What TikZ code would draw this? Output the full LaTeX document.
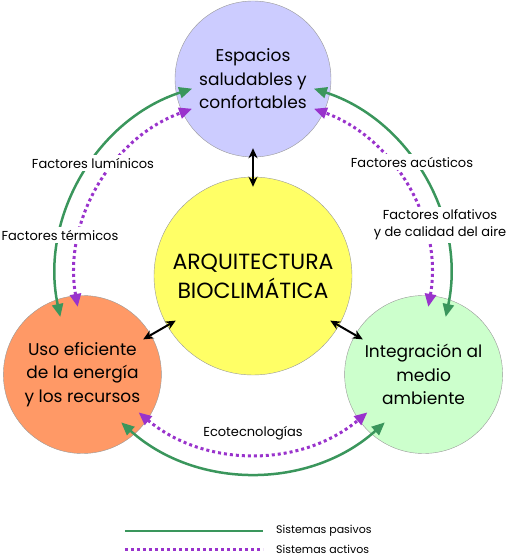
\documentclass[tikz,border=0pt]{standalone}
\usepackage{fontspec}
\setmainfont{Poppins}
\usetikzlibrary{arrows.meta}

\definecolor{verdepas}{RGB}{58,150,92}
\definecolor{moradoact}{RGB}{153,51,204}
\definecolor{lila}{RGB}{204,204,255}
\definecolor{amarillo}{RGB}{255,255,102}
\definecolor{naranja}{RGB}{255,153,102}
\definecolor{verdeclaro}{RGB}{204,255,204}

\begin{document}
\begin{tikzpicture}[x=1pt, y=1pt,
  tema/.style={circle, draw=gray!80, thin, align=center, inner sep=0pt,
    font=\fontsize{17}{23.5}\selectfont},
  lineapasiva/.style={verdepas, line width=2.5pt},
  lineaactiva/.style={moradoact, line width=3pt, dash pattern=on 3pt off 3pt},
  puntas/.style={{Triangle[length=13pt,width=11pt]}-{Triangle[length=13pt,width=11pt]}},
  enlace/.style={black, line width=2pt, {Stealth[length=10pt,width=9pt]}-{Stealth[length=10pt,width=9pt]},
    shorten <=-10pt, shorten >=-9pt},
  factor/.style={fill=white, inner sep=3pt, align=center, font=\fontsize{13}{17}\selectfont},
  leyenda/.style={anchor=west, inner sep=1pt, font=\fontsize{11}{13}\selectfont}]
\useasboundingbox (-253,-280) rectangle (259,276);

% circulos
\node[tema, fill=amarillo, minimum size=198pt, font=\fontsize{22}{29}\selectfont] (arq) at (0,0) {ARQUITECTURA\\BIOCLIM\'ATICA};
\node[tema, fill=lila, minimum size=156pt] (esp) at (90:197) {Espacios\\saludables y\\confortables};
\node[tema, fill=naranja, minimum size=158pt] (uso) at (210:197) {Uso eficiente\\de la energ\'ia\\y los recursos};
\node[tema, fill=verdeclaro, minimum size=158pt] (med) at (330:197) {Integraci\'on al\\medio\\ambiente};

% extremos de los arcos
\coordinate (pa1) at (192:197);
\coordinate (pa2) at (-12:197);
\coordinate (pa3) at (228:197);
\coordinate (ac1) at (190:178);
\coordinate (ac2) at (-10:178);
\coordinate (ac3) at (230:178);

% sistemas pasivos y activos
\draw[lineapasiva, puntas] (pa1) arc[start angle=192, end angle=108, radius=197];
\draw[lineapasiva, puntas] (pa2) arc[start angle=-12, end angle=72, radius=197];
\draw[lineapasiva, puntas] (pa3) arc[start angle=228, end angle=312, radius=197];
\draw[lineaactiva, puntas] (ac1) arc[start angle=190, end angle=110, radius=178];
\draw[lineaactiva, puntas] (ac2) arc[start angle=-10, end angle=70, radius=178];
\draw[lineaactiva, puntas] (ac3) arc[start angle=230, end angle=310, radius=178];

\node[factor] (lum) at (-160,113) {Factores lum\'inicos};
\node[factor] (ter) at (-193,41) {Factores t\'ermicos};
\node[factor] (acu) at (159,114) {Factores ac\'usticos};
\node[factor] (olf) at (187,51) {Factores olfativos\\y de calidad del aire};
\node[factor] (eco) at (0,-157) {Ecotecnolog\'ias};

% relaciones con el centro
\draw[enlace] (arq) -- (esp);
\draw[enlace] (arq) -- (uso);
\draw[enlace] (arq) -- (med);

% leyenda
\coordinate (l1) at (-128,-255);
\coordinate (l2) at (10,-255);
\coordinate (l3) at (-128,-273);
\coordinate (l4) at (10,-273);
\draw[lineapasiva] (l1) -- (l2);
\draw[lineaactiva] (l3) -- (l4);
\node[leyenda] (pas) at (22,-255) {Sistemas pasivos};
\node[leyenda] (act) at (22,-273) {Sistemas activos};
\end{tikzpicture}
\end{document}
